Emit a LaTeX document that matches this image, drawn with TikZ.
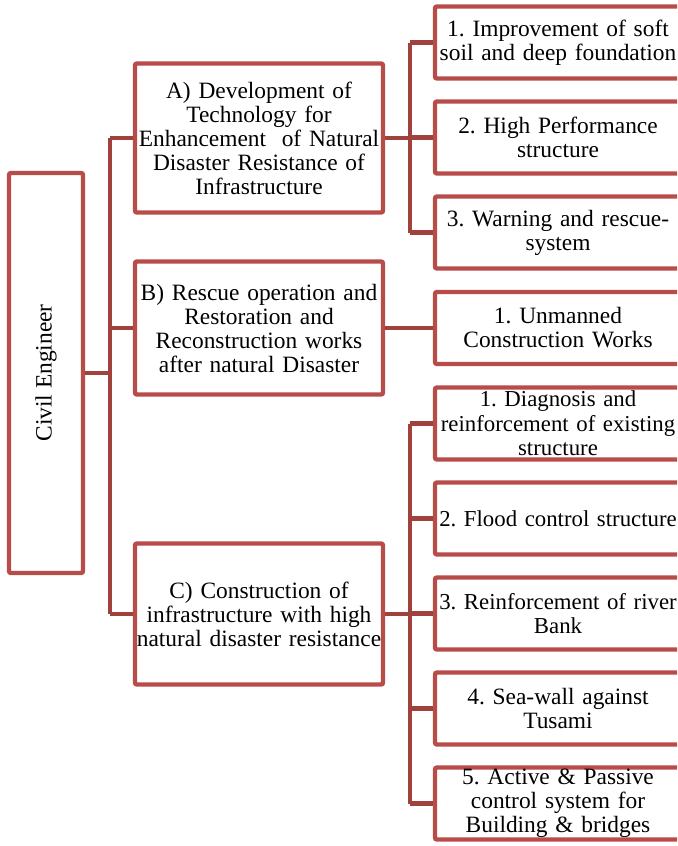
\documentclass[tikz,border=0pt]{standalone}
\usepackage{fontspec}
\setmainfont{Liberation Serif}
\usepackage{tikz}
\usetikzlibrary{positioning}
\definecolor{boxred}{RGB}{184,76,73}
\definecolor{linkred}{RGB}{160,65,62}
\frenchspacing
\hyphenpenalty=10000
\exhyphenpenalty=10000

\begin{document}
\begin{tikzpicture}[x=0.5pt,y=-0.5pt]
			\tikzset{every node/.style={font=\fontsize{11.7}{12}\selectfont,align=center,inner sep=0pt}}
			\tikzset{topic/.style={draw=boxred,line width=2.2pt,rounded corners=1pt,minimum width=124pt,text width=124pt}}
			\tikzset{item/.style={draw=boxred,line width=2.2pt,rounded corners=1pt,minimum width=123pt,minimum height=36pt,text width=121pt,inner xsep=1pt}}
			\tikzset{wideitem/.style={item,font=\fontsize{11.4}{12.3}\selectfont}}
			\tikzset{link/.style={draw=linkred,line width=2.2pt}}
			\useasboundingbox (0,0) rectangle (677,846);
			\clip (0,0) rectangle (677,846);
			% root
			\node[draw=boxred,line width=2.2pt,rounded corners=1pt,minimum width=37pt,minimum height=200pt] (civil) at (46,373) {};
			\node[rotate=90] at (civil.center) {Civil Engineer};
			% middle level
			\node[topic,minimum height=74.5pt] (dev) at (259,138) {A) Development of\\Technology for\\Enhancement\ \ of Natural\\Disaster Resistance of\\Infrastructure};
			\node[topic,minimum height=66.5pt] (rescue) at (259,328) {B) Rescue operation and\\Restoration and\\Reconstruction works\\after natural Disaster};
			\node[topic,minimum height=70.5pt] (constr) at (259,614) {C) Construction of\\infrastructure with high\\\mbox{natural disaster resistance}};
			% right level
			\node[item] (soil) at (558,42.5) {1. Improvement of soft\\soil and deep foundation};
			\node[item] (perf) at (558,137.5) {2. High Performance\\structure};
			\node[item] (warn) at (558,232.5) {3. Warning and rescue-\\system};
			\node[item] (unman) at (558,328) {1. Unmanned\\Construction Works};
			\node[wideitem] (diag) at (558,423.5) {1. Diagnosis and\\reinforcement of existing\\structure};
			\node[wideitem] (flood) at (558,518.5) {\mbox{2. Flood control structure}};
			\node[wideitem] (river) at (558,613.5) {\mbox{3. Reinforcement of river}\\Bank};
			\node[item] (sea) at (558,708.5) {4. Sea-wall against\\Tusami};
			\node[item] (active) at (558,803.5) {5. Active \& Passive\\control system for\\Building \& bridges};
			% connectors
			\draw[link] (civil.east) -- ++(25,0) coordinate (spine);
			\draw[link] (spine |- dev.west) -- (spine |- constr.west);
			\foreach \n in {dev,rescue,constr}
				\draw[link] (spine |- \n.west) -- (\n.west);
			\draw[link] (dev.east) -- ++(25,0) coordinate (spa);
			\draw[link] (spa |- soil.west) -- (spa |- warn.west);
			\foreach \n in {soil,perf,warn}
				\draw[link] (spa |- \n.west) -- (\n.west);
			\draw[link] (rescue.east) -- (unman.west);
			\draw[link] (constr.east) -- ++(25,0) coordinate (spc);
			\draw[link] (spc |- diag.west) -- (spc |- active.west);
			\foreach \n in {diag,flood,river,sea,active}
				\draw[link] (spc |- \n.west) -- (\n.west);
		\end{tikzpicture}
\end{document}
